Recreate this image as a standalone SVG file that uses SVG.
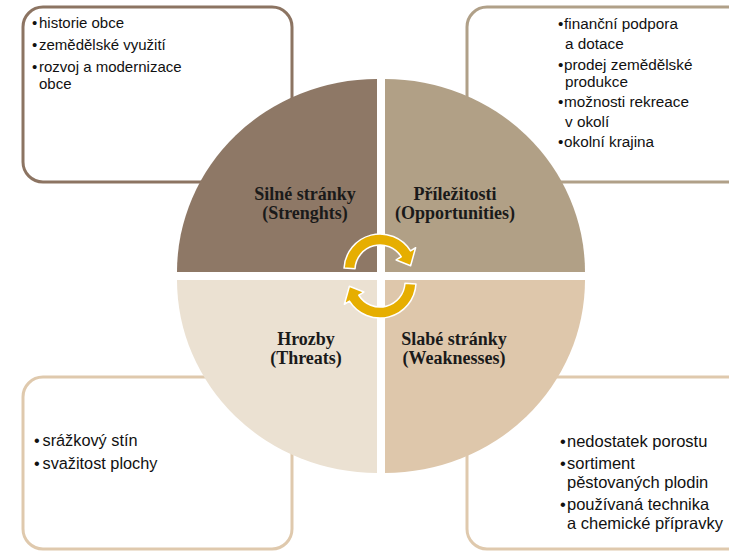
<svg xmlns="http://www.w3.org/2000/svg" xmlns:xlink="http://www.w3.org/1999/xlink" width="729" height="551" viewBox="0 0 729 551">
  <style>
    .box { fill: #ffffff; stroke-width: 3; }
    .item { font-family: "Liberation Sans", Arial, sans-serif; fill: #111111; }
    .lbl { font-family: "Liberation Serif", "Times New Roman", serif; font-weight: bold; font-size: 18px; fill: #1a1a1a; text-anchor: middle; }
    .arrow { fill: #e6ae00; stroke: #ffffff; stroke-width: 1.5; stroke-linejoin: round; }
  </style>
  <defs>
    <path id="cyc" d="M 344.05 268.12 A 36 36 0 0 1 410.53 250.92 L 415.62 247.74 L 410.6 265.7 L 396.12 259.93 L 401.21 256.75 A 25 25 0 0 0 355.03 268.69 Z"/>
  </defs>
  <rect width="729" height="551" fill="#ffffff"/>

  <g id="box-strengths">
    <rect class="box" x="23" y="7" width="269" height="175" rx="20" stroke="#8c7462"/>
    <text class="item" font-size="15"><tspan x="32" y="28">•</tspan><tspan x="39" y="28">historie obce</tspan></text>
    <text class="item" font-size="15"><tspan x="32" y="50">•</tspan><tspan x="39" y="50">zemědělské využití</tspan></text>
    <text class="item" font-size="15"><tspan x="32" y="72">•</tspan><tspan x="39" y="72">rozvoj a modernizace</tspan><tspan x="39" y="89">obce</tspan></text>
  </g>

  <g id="box-opportunities">
    <rect class="box" x="467" y="7" width="290" height="175" rx="20" stroke="#b0a088"/>
    <text class="item" font-size="15.3"><tspan x="558" y="29">•</tspan><tspan x="564" y="29">finanční podpora</tspan><tspan x="565" y="49">a dotace</tspan></text>
    <text class="item" font-size="15.3"><tspan x="558" y="70">•</tspan><tspan x="564" y="70">prodej zemědělské</tspan><tspan x="565" y="87">produkce</tspan></text>
    <text class="item" font-size="15.3"><tspan x="558" y="107">•</tspan><tspan x="564" y="107">možnosti rekreace</tspan><tspan x="565" y="127">v okolí</tspan></text>
    <text class="item" font-size="15.3"><tspan x="558" y="147">•</tspan><tspan x="564" y="147">okolní krajina</tspan></text>
  </g>

  <g id="box-threats">
    <rect class="box" x="23" y="377" width="269" height="172" rx="20" stroke="#dfc9ad"/>
    <text class="item" font-size="16.3"><tspan x="34" y="446">•</tspan><tspan x="42.5" y="446">srážkový stín</tspan></text>
    <text class="item" font-size="16.3"><tspan x="34" y="469">•</tspan><tspan x="42.5" y="469">svažitost plochy</tspan></text>
  </g>

  <g id="box-weaknesses">
    <rect class="box" x="467" y="377" width="290" height="172" rx="20" stroke="#dfc9ad"/>
    <text class="item" font-size="16.5"><tspan x="560" y="447">•</tspan><tspan x="567" y="447">nedostatek porostu</tspan></text>
    <text class="item" font-size="16.5"><tspan x="560" y="469">•</tspan><tspan x="567" y="469">sortiment</tspan><tspan x="567" y="488">pěstovaných plodin</tspan></text>
    <text class="item" font-size="16.5"><tspan x="560" y="510">•</tspan><tspan x="567" y="510">používaná technika</tspan><tspan x="567" y="529">a chemické přípravky</tspan></text>
  </g>

  <g id="q-strengths">
    <path d="M377,272 L177,272 A200 193 0 0 1 377,79 Z" fill="#8e7866"/>
    <text class="lbl"><tspan x="305" y="200">Silné stránky</tspan><tspan x="305" y="219">(Strenghts)</tspan></text>
  </g>
  <g id="q-opportunities">
    <path d="M385,272 L385,79 A200 193 0 0 1 585,272 Z" fill="#b1a086"/>
    <text class="lbl"><tspan x="455" y="200">Příležitosti</tspan><tspan x="455" y="219">(Opportunities)</tspan></text>
  </g>
  <g id="q-threats">
    <path d="M377,280 L377,473 A200 193 0 0 1 177,280 Z" fill="#ebe1d2"/>
    <text class="lbl"><tspan x="306" y="345">Hrozby</tspan><tspan x="306" y="364">(Threats)</tspan></text>
  </g>
  <g id="q-weaknesses">
    <path d="M385,280 L585,280 A200 193 0 0 1 385,473 Z" fill="#dec7ab"/>
    <text class="lbl"><tspan x="454" y="345">Slabé stránky</tspan><tspan x="454" y="364">(Weaknesses)</tspan></text>
  </g>

  <g id="connectors">
    <use xlink:href="#cyc" href="#cyc" class="arrow"/>
    <use xlink:href="#cyc" href="#cyc" class="arrow" transform="rotate(180 380 276)"/>
  </g>
</svg>
